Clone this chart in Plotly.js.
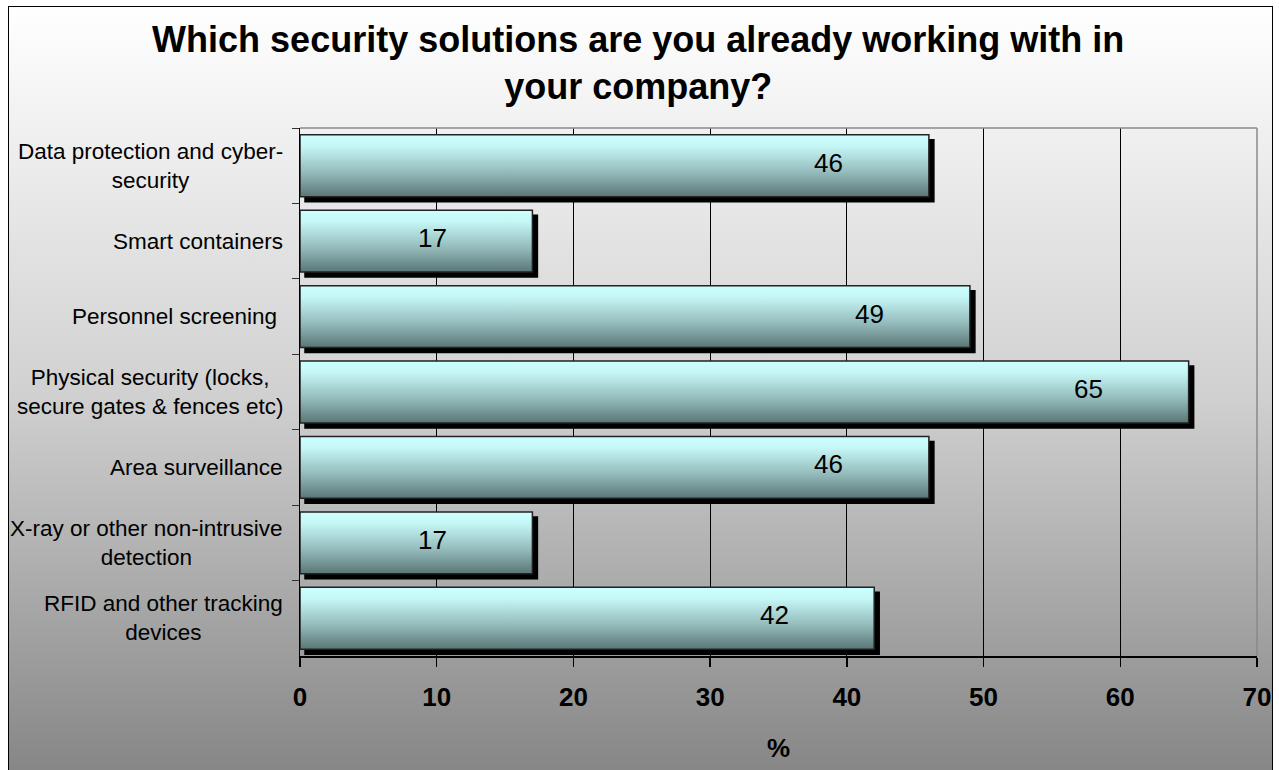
<!DOCTYPE html>
<html>
<head>
<meta charset="utf-8">
<script src="https://cdn.plot.ly/plotly-3.0.1.min.js"></script>
<style>
  html, body { margin: 0; padding: 0; background: #ffffff; }
  body { width: 1279px; height: 770px; overflow: hidden; position: relative; }
  #frame {
    position: absolute; left: 8px; top: 6px; width: 1265px; height: 800px;
    border: 1px solid #000; box-sizing: border-box;
    background: linear-gradient(to bottom, #ffffff 0px, #d0d0d0 390px, #858585 770px);
  }
  #chart { position: absolute; left: 0; top: 0; width: 1279px; height: 770px; }
</style>
</head>
<body>
<div id="frame"></div>
<div id="chart"></div>
<script>
// ---- data ----
const categories = [
  "Data protection and cyber-security",
  "Smart containers",
  "Personnel screening",
  "Physical security (locks, secure gates & fences etc)",
  "Area surveillance",
  "X-ray or other non-intrusive detection",
  "RFID and other tracking devices"
];
const tickLabels = [
  "Data protection and cyber-<br>security",
  "Smart containers",
  "Personnel screening\u00A0",
  "Physical security (locks,<br>secure gates & fences etc)",
  "Area surveillance",
  "X-ray or other non-intrusive<br>detection",
  "RFID and other tracking<br>devices"
];
const values = [46, 17, 49, 65, 46, 17, 42];
const xTicks = [0, 10, 20, 30, 40, 50, 60, 70];
const titleText = "Which security solutions are you already working with in<br>your company?";
const xTitle = "%";

// ---- chart ----
const FONT = "Liberation Sans, Arial, sans-serif";

const trace = {
  type: "bar",
  orientation: "h",
  x: values,
  y: categories,
  marker: { color: "#9cc4c4", line: { color: "#222222", width: 1.5 } },
  hoverinfo: "x+y"
};

const annotations = [];
categories.forEach((c, i) => {
  annotations.push({
    xref: "paper", yref: "y", x: 0, y: c,
    xanchor: "right", yanchor: "middle", xshift: -15,
    align: "center", showarrow: false,
    text: tickLabels[i],
    font: { family: FONT, size: 22.5, color: "#000" }
  });
  annotations.push({
    xref: "x", yref: "y", x: values[i], y: c,
    xanchor: "center", yanchor: "middle", xshift: -100, yshift: 3,
    showarrow: false,
    text: String(values[i]),
    font: { family: FONT, size: 26, color: "#000" }
  });
});

const layout = {
  width: 1279, height: 770,
  paper_bgcolor: "rgba(0,0,0,0)",
  plot_bgcolor: "rgba(0,0,0,0)",
  margin: { l: 300, r: 22, t: 128, b: 114 },
  showlegend: false,
  bargap: 0.18,
  title: {
    text: titleText,
    x: 0.499, xanchor: "center",
    y: 1 - 52 / 770, yanchor: "top", yref: "container",
    font: { family: FONT, size: 36, color: "#000", weight: "bold" }
  },
  xaxis: {
    range: [0, 70],
    tickvals: xTicks,
    ticktext: xTicks.map(String),
    showgrid: true, gridcolor: "#000000", gridwidth: 1,
    zeroline: false,
    showline: true, linecolor: "#000000", linewidth: 1.5,
    ticks: "outside", ticklen: 9, tickcolor: "#000", tickwidth: 1.5,
    ticklabelstandoff: 8,
    tickfont: { family: FONT, size: 26, color: "#000", weight: "bold" },
    title: { text: xTitle, standoff: 28, font: { family: FONT, size: 26, color: "#000", weight: "bold" } },
    fixedrange: true
  },
  yaxis: {
    type: "category",
    categoryorder: "array",
    categoryarray: categories,
    autorange: "reversed",
    showticklabels: false,
    showgrid: false, zeroline: false,
    showline: true, linecolor: "#000000", linewidth: 1.5,
    ticks: "outside", ticklen: 7, tickcolor: "#333", tickwidth: 1,
    tickson: "boundaries",
    fixedrange: true
  },
  shapes: [
    { type: "line", xref: "paper", yref: "paper", x0: 0, x1: 1, y0: 1, y1: 1, line: { color: "#8a8a8a", width: 1.5 }, layer: "above" },
    { type: "line", xref: "paper", yref: "paper", x0: 1, x1: 1, y0: 0, y1: 1, line: { color: "#8a8a8a", width: 1.5 }, layer: "above" }
  ],
  annotations: annotations
};

Plotly.newPlot("chart", [trace], layout, { displayModeBar: false, staticPlot: true }).then(function (gd) {
  const svgNS = "http://www.w3.org/2000/svg";
  const svg = gd.querySelector(".main-svg");
  let defs = svg.querySelector("defs");
  if (!defs) { defs = document.createElementNS(svgNS, "defs"); svg.insertBefore(defs, svg.firstChild); }
  const grad = document.createElementNS(svgNS, "linearGradient");
  grad.setAttribute("id", "barGrad");
  grad.setAttribute("x1", "0"); grad.setAttribute("y1", "0");
  grad.setAttribute("x2", "0"); grad.setAttribute("y2", "1");
  [["0", "#ccffff"], ["0.18", "#c6f7f7"], ["0.6", "#95bcbc"], ["1", "#5a7676"]].forEach(function (s) {
    const st = document.createElementNS(svgNS, "stop");
    st.setAttribute("offset", s[0]);
    st.setAttribute("stop-color", s[1]);
    grad.appendChild(st);
  });
  defs.appendChild(grad);
  gd.querySelectorAll(".barlayer .point path").forEach(function (p) {
    p.style.fill = "url(#barGrad)";
    p.style.filter = "drop-shadow(5px 5px 0px #000)";
  });
});
</script>
</body>
</html>
